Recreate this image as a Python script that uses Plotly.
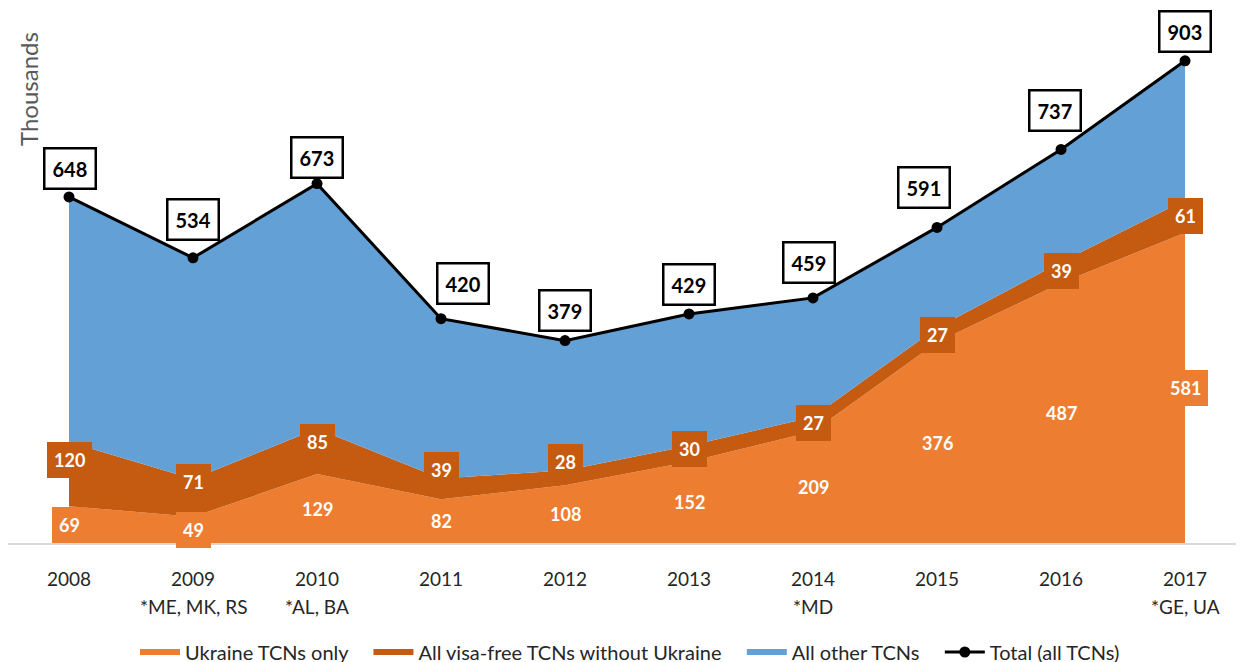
import plotly.graph_objects as go

years = [2008, 2009, 2010, 2011, 2012, 2013, 2014, 2015, 2016, 2017]
sub_labels = ["", "*ME, MK, RS", "*AL, BA", "", "", "", "*MD", "", "", "*GE, UA"]
ukraine = [69, 49, 129, 82, 108, 152, 209, 376, 487, 581]
visa_free = [120, 71, 85, 39, 28, 30, 27, 27, 39, 61]
other = [459, 414, 459, 299, 243, 247, 223, 188, 211, 261]
total = [648, 534, 673, 420, 379, 429, 459, 591, 737, 903]
series_names = ["Ukraine TCNs only", "All visa-free TCNs without Ukraine", "All other TCNs", "Total (all TCNs)"]

C_UKR = "#ED7D31"
C_VISA = "#C55A11"
C_OTHER = "#63A0D6"
FONT = "Lato"
PADNAME = "\u00a0\u00a0\u00a0"

# label nudges (px)
visa_yshift = [14, 16, 9, 19, 16, 5, 1, 0, 2, 0]
tot_yshift = [28, 38, 26, 35, 30, 29, 35, 40, 39, 29]
tot_xshift = [1, 0, 0, 22, 0, 0, -4, -13, -6, 0]

W, H = 1244, 662
ML, MR, MT, MB = 0, 0, 1, 127
PH = H - MT - MB  # plot height in px

fig = go.Figure()
fig.add_trace(go.Scatter(x=years, y=ukraine, name=series_names[0] + PADNAME, stackgroup="s",
                         mode="none", fillcolor=C_UKR, line=dict(width=0)))
fig.add_trace(go.Scatter(x=years, y=visa_free, name=series_names[1] + PADNAME, stackgroup="s",
                         mode="none", fillcolor=C_VISA, line=dict(width=0)))
fig.add_trace(go.Scatter(x=years, y=other, name=series_names[2] + PADNAME, stackgroup="s",
                         mode="none", fillcolor=C_OTHER, line=dict(width=0)))
fig.add_trace(go.Scatter(x=years, y=total, name=series_names[3], mode="lines+markers",
                         line=dict(color="black", width=3), marker=dict(color="black", size=11)))

ann = []
for i, yr in enumerate(years):
    ann.append(dict(x=yr, y=ukraine[i] / 2, xref="x", yref="y", text=f"<b>{ukraine[i]}</b>",
                    showarrow=False, font=dict(family=FONT, size=18, color="white"),
                    bgcolor=C_UKR, borderpad=7, borderwidth=0))
    ann.append(dict(x=yr, y=ukraine[i] + visa_free[i] / 2, xref="x", yref="y",
                    text=f"<b>{visa_free[i]}</b>", yshift=visa_yshift[i],
                    showarrow=False, font=dict(family=FONT, size=18, color="white"),
                    bgcolor=C_VISA, borderpad=7, borderwidth=0))
    ann.append(dict(x=yr, y=total[i], xref="x", yref="y", text=f"<b>{total[i]}</b>",
                    yshift=tot_yshift[i], xshift=tot_xshift[i],
                    showarrow=False, font=dict(family=FONT, size=20, color="black"),
                    bgcolor="white", bordercolor="black", borderwidth=2.5, borderpad=7))
    if sub_labels[i]:
        ann.append(dict(x=yr, y=-63 / PH, xref="x", yref="paper", text=sub_labels[i],
                        showarrow=False, yanchor="middle",
                        font=dict(family=FONT, size=19, color="#262626")))

ann.append(dict(x=20 / W, y=(PH + MT - 81) / PH, xref="paper", yref="paper",
                text="Thousands", textangle=-90, xanchor="center", yanchor="middle",
                showarrow=False, font=dict(family=FONT, size=24, color="#595959")))

fig.update_layout(
    width=W, height=H,
    margin=dict(l=ML, r=MR, t=MT, b=MB, autoexpand=False),
    plot_bgcolor="white", paper_bgcolor="white",
    showlegend=True,
    legend=dict(orientation="h", x=0.5, xanchor="center", y=-109 / PH, yanchor="middle",
                font=dict(family=FONT, size=20, color="#262626"), traceorder="normal",
                itemwidth=40),
    annotations=ann,
    xaxis=dict(range=[2007.508, 2017.540], tickvals=years, ticktext=[str(y) for y in years],
               showgrid=False, zeroline=False, showline=True, linecolor="#D9D9D9", linewidth=1.5,
               tickfont=dict(family=FONT, size=19, color="#262626"), ticks="",
               ticklabelstandoff=18, automargin=False),
    yaxis=dict(range=[0, 1000], showgrid=False, zeroline=False, showticklabels=False,
               showline=False, ticks="", automargin=False),
    font=dict(family=FONT),
)

fig.write_html("out.html")
